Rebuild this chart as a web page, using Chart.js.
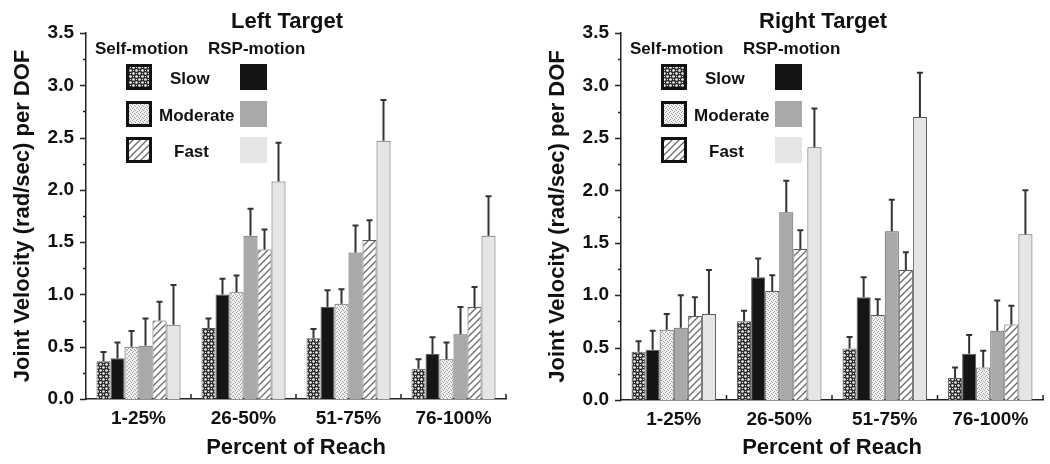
<!DOCTYPE html>
<html>
<head>
<meta charset="utf-8">
<script src="https://cdn.jsdelivr.net/npm/chart.js@4.4.1/dist/chart.umd.min.js"></script>
<style>
  html, body { margin: 0; padding: 0; background: #fff; }
  .panel { position: absolute; top: 0; height: 464px; }
</style>
</head>
<body>
<div class="panel" style="left:0;width:525px"><canvas id="chart-left"></canvas></div>
<div class="panel" style="left:525px;width:525px"><canvas id="chart-right"></canvas></div>
<script>
// Categorías y valores
const CATEGORIES = ['1-25%', '26-50%', '51-75%', '76-100%'];
const Y_TICKS = [0, 0.5, 1, 1.5, 2, 2.5, 3, 3.5];

// Left Target: medias
const LEFT_SELF_SLOW = [0.36, 0.68, 0.58, 0.29];
const LEFT_RSP_SLOW  = [0.39, 1.00, 0.88, 0.43];
const LEFT_SELF_MOD  = [0.50, 1.02, 0.91, 0.38];
const LEFT_RSP_MOD   = [0.51, 1.56, 1.40, 0.62];
const LEFT_SELF_FAST = [0.75, 1.43, 1.52, 0.88];
const LEFT_RSP_FAST  = [0.71, 2.08, 2.47, 1.56];
// Left Target: barras de error (superior)
const LEFT_SELF_SLOW_ERR = [0.09, 0.09, 0.09, 0.09];
const LEFT_RSP_SLOW_ERR  = [0.15, 0.15, 0.16, 0.16];
const LEFT_SELF_MOD_ERR  = [0.15, 0.16, 0.14, 0.16];
const LEFT_RSP_MOD_ERR   = [0.26, 0.26, 0.26, 0.26];
const LEFT_SELF_FAST_ERR = [0.18, 0.19, 0.19, 0.19];
const LEFT_RSP_FAST_ERR  = [0.38, 0.37, 0.39, 0.38];

// Right Target: medias
const RIGHT_SELF_SLOW = [0.46, 0.75, 0.49, 0.21];
const RIGHT_RSP_SLOW  = [0.48, 1.17, 0.98, 0.44];
const RIGHT_SELF_MOD  = [0.67, 1.04, 0.81, 0.31];
const RIGHT_RSP_MOD   = [0.69, 1.79, 1.61, 0.66];
const RIGHT_SELF_FAST = [0.80, 1.44, 1.24, 0.72];
const RIGHT_RSP_FAST  = [0.82, 2.41, 2.70, 1.58];
// Right Target: barras de error (superior)
const RIGHT_SELF_SLOW_ERR = [0.10, 0.10, 0.11, 0.10];
const RIGHT_RSP_SLOW_ERR  = [0.18, 0.18, 0.19, 0.18];
const RIGHT_SELF_MOD_ERR  = [0.15, 0.15, 0.15, 0.16];
const RIGHT_RSP_MOD_ERR   = [0.31, 0.30, 0.30, 0.29];
const RIGHT_SELF_FAST_ERR = [0.18, 0.18, 0.17, 0.18];
const RIGHT_RSP_FAST_ERR  = [0.42, 0.37, 0.42, 0.42];

const TEXT = '#111';
const FONT = "'Liberation Sans', Arial, sans-serif";

// Patrones de relleno
function makePattern(size, draw) {
    const c = document.createElement('canvas');
    c.width = size; c.height = size;
    const g = c.getContext('2d');
    draw(g, size);
    return g.createPattern(c, 'repeat');
}
const PAT_SLOW = makePattern(6, (g) => {
    g.fillStyle = '#2a2a2a'; g.fillRect(0, 0, 6, 6);
    g.fillStyle = '#f2f2f2';
    [[1.5, 1.5], [4.5, 4.5]].forEach(([x, y]) => { g.beginPath(); g.arc(x, y, 1.3, 0, Math.PI * 2); g.fill(); });
    g.fillRect(4, 1, 1, 1); g.fillRect(1, 4, 1, 1);
});
const PAT_MOD = makePattern(4, (g) => {
    g.fillStyle = '#f1f1f1'; g.fillRect(0, 0, 4, 4);
    g.fillStyle = '#9c9c9c';
    g.fillRect(0, 0, 1, 1); g.fillRect(2, 1, 1, 1); g.fillRect(1, 3, 1, 1); g.fillRect(3, 2, 1, 1);
});
const PAT_FAST = makePattern(7, (g) => {
    g.fillStyle = '#fff'; g.fillRect(0, 0, 7, 7);
    g.strokeStyle = '#6a6a6a'; g.lineWidth = 1.3;
    g.beginPath();
    g.moveTo(-1, 8); g.lineTo(8, -1);
    g.moveTo(-1, 1); g.lineTo(1, -1);
    g.moveTo(6, 8); g.lineTo(8, 6);
    g.stroke();
});

const FILLS = [PAT_SLOW, '#151515', PAT_MOD, '#a9a9a9', PAT_FAST, '#e5e5e5'];
const NAMES = ['Self Slow', 'RSP Slow', 'Self Moderate', 'RSP Moderate', 'Self Fast', 'RSP Fast'];

// Barras de error, ticks de ejes, título y leyenda
const decorPlugin = {
    id: 'decor',
    afterDatasetsDraw(chart) {
        const ctx = chart.ctx;
        const y = chart.scales.y;
        const errs = chart.options.plugins.decor.errors;
        ctx.save();
        ctx.strokeStyle = '#333';
        ctx.lineWidth = 2;
        chart.data.datasets.forEach((ds, i) => {
            chart.getDatasetMeta(i).data.forEach((bar, j) => {
                const top = y.getPixelForValue(ds.data[j] + errs[i][j]);
                ctx.beginPath();
                ctx.moveTo(bar.x, bar.y);
                ctx.lineTo(bar.x, top);
                ctx.moveTo(bar.x - 3, top);
                ctx.lineTo(bar.x + 3, top);
                ctx.stroke();
            });
        });
        ctx.restore();
    },
    afterDraw(chart) {
        const ctx = chart.ctx;
        const a = chart.chartArea;
        const x = chart.scales.x, y = chart.scales.y;
        const opts = chart.options.plugins.decor;
        ctx.save();
        // ticks eje Y (mayores y menores, hacia fuera)
        ctx.strokeStyle = '#222';
        ctx.lineWidth = 1.5;
        for (let v = 0; v <= 3.5001; v += 0.25) {
            const py = Math.round(y.getPixelForValue(v)) + 0.5;
            const len = (Math.abs(v * 2 - Math.round(v * 2)) < 0.01) ? 6 : 3;
            ctx.beginPath(); ctx.moveTo(a.left - len, py); ctx.lineTo(a.left, py); ctx.stroke();
        }
        // ticks eje X (entre categorías, hacia dentro)
        for (let i = 0; i < CATEGORIES.length - 1; i++) {
            const px = (x.getPixelForValue(i) + x.getPixelForValue(i + 1)) / 2;
            ctx.beginPath(); ctx.moveTo(px, a.bottom); ctx.lineTo(px, a.bottom - 5); ctx.stroke();
        }
        ctx.beginPath(); ctx.moveTo(a.right, a.bottom); ctx.lineTo(a.right, a.bottom - 5); ctx.stroke();

        // título
        ctx.fillStyle = TEXT;
        ctx.font = `bold 22px ${FONT}`;
        ctx.textAlign = 'center';
        ctx.textBaseline = 'alphabetic';
        ctx.fillText(opts.title, (a.left + a.right) / 2 - 9, 28);

        // leyenda
        const L = a.left, T = a.top;
        ctx.font = `bold 17px ${FONT}`;
        ctx.textAlign = 'left';
        ctx.fillText('Self-motion', L + 9, T + 21);
        ctx.fillText('RSP-motion', L + 122, T + 21);
        const rows = [
            { label: 'Slow', lx: 84, self: FILLS[0], rsp: FILLS[1] },
            { label: 'Moderate', lx: 73, self: FILLS[2], rsp: FILLS[3] },
            { label: 'Fast', lx: 88, self: FILLS[4], rsp: FILLS[5] }
        ];
        const rowTop = [31, 68, 104];
        rows.forEach((r, k) => {
            const ty = T + rowTop[k];
            ctx.fillStyle = r.self;
            ctx.fillRect(L + 41, ty + 1, 24, 24);
            ctx.strokeStyle = '#111';
            ctx.lineWidth = 3;
            ctx.strokeRect(L + 41.5, ty + 1.5, 23, 23);
            ctx.fillStyle = r.rsp;
            ctx.fillRect(L + 154, ty, 27, 26);
            ctx.fillStyle = TEXT;
            ctx.fillText(r.label, L + r.lx, ty + 20);
        });
        ctx.restore();
    }
};

function buildDatasets(series) {
    return series.map((values, i) => ({
        label: NAMES[i],
        data: values,
        backgroundColor: FILLS[i],
        borderColor: '#5a5a5a',
        borderWidth: 1,
        categoryPercentage: 0.8,
        barPercentage: 1.0
    }));
}

function renderPanel(canvasId, title, series, errors, axisWidth, titlePad, padRight, xHeight) {
    return new Chart(document.getElementById(canvasId), {
        type: 'bar',
        data: { labels: CATEGORIES, datasets: buildDatasets(series) },
        options: {
            responsive: true,
            maintainAspectRatio: false,
            animation: false,
            devicePixelRatio: 1,
            layout: { padding: { left: 0, right: padRight, top: 33, bottom: 0 } },
            plugins: {
                legend: { display: false },
                tooltip: { enabled: false },
                decor: { title, errors }
            },
            scales: {
                x: {
                    grid: { display: false, drawTicks: false },
                    border: { display: true, color: '#222', width: 1.5 },
                    ticks: { color: TEXT, font: { family: FONT, size: 19, weight: 'bold' }, padding: 8 },
                    title: {
                        display: true,
                        text: 'Percent of Reach',
                        color: TEXT,
                        font: { family: FONT, size: 22, weight: 'bold' },
                        padding: { top: 0, bottom: 3 }
                    },
                    afterFit(scale) { scale.height = xHeight; }
                },
                y: {
                    min: 0,
                    max: 3.5,
                    grid: { display: false, drawTicks: false },
                    border: { display: true, color: '#222', width: 1.5 },
                    afterBuildTicks(scale) { scale.ticks = Y_TICKS.map(v => ({ value: v })); },
                    ticks: {
                        color: TEXT,
                        font: { family: FONT, size: 19, weight: 'bold' },
                        padding: 12,
                        callback: (v) => Number(v).toFixed(1)
                    },
                    title: {
                        display: true,
                        text: 'Joint Velocity (rad/sec) per DOF',
                        color: TEXT,
                        font: { family: FONT, size: 22, weight: 'bold' },
                        padding: { top: titlePad, bottom: 0 }
                    },
                    afterFit(scale) { scale.width = axisWidth; }
                }
            }
        },
        plugins: [decorPlugin]
    });
}

renderPanel('chart-left', 'Left Target',
    [LEFT_SELF_SLOW, LEFT_RSP_SLOW, LEFT_SELF_MOD, LEFT_RSP_MOD, LEFT_SELF_FAST, LEFT_RSP_FAST],
    [LEFT_SELF_SLOW_ERR, LEFT_RSP_SLOW_ERR, LEFT_SELF_MOD_ERR, LEFT_RSP_MOD_ERR, LEFT_SELF_FAST_ERR, LEFT_RSP_FAST_ERR],
    86, 10, 19, 65);

renderPanel('chart-right', 'Right Target',
    [RIGHT_SELF_SLOW, RIGHT_RSP_SLOW, RIGHT_SELF_MOD, RIGHT_RSP_MOD, RIGHT_SELF_FAST, RIGHT_RSP_FAST],
    [RIGHT_SELF_SLOW_ERR, RIGHT_RSP_SLOW_ERR, RIGHT_SELF_MOD_ERR, RIGHT_RSP_MOD_ERR, RIGHT_SELF_FAST_ERR, RIGHT_RSP_FAST_ERR],
    96, 20, 7, 64);
</script>
</body>
</html>
